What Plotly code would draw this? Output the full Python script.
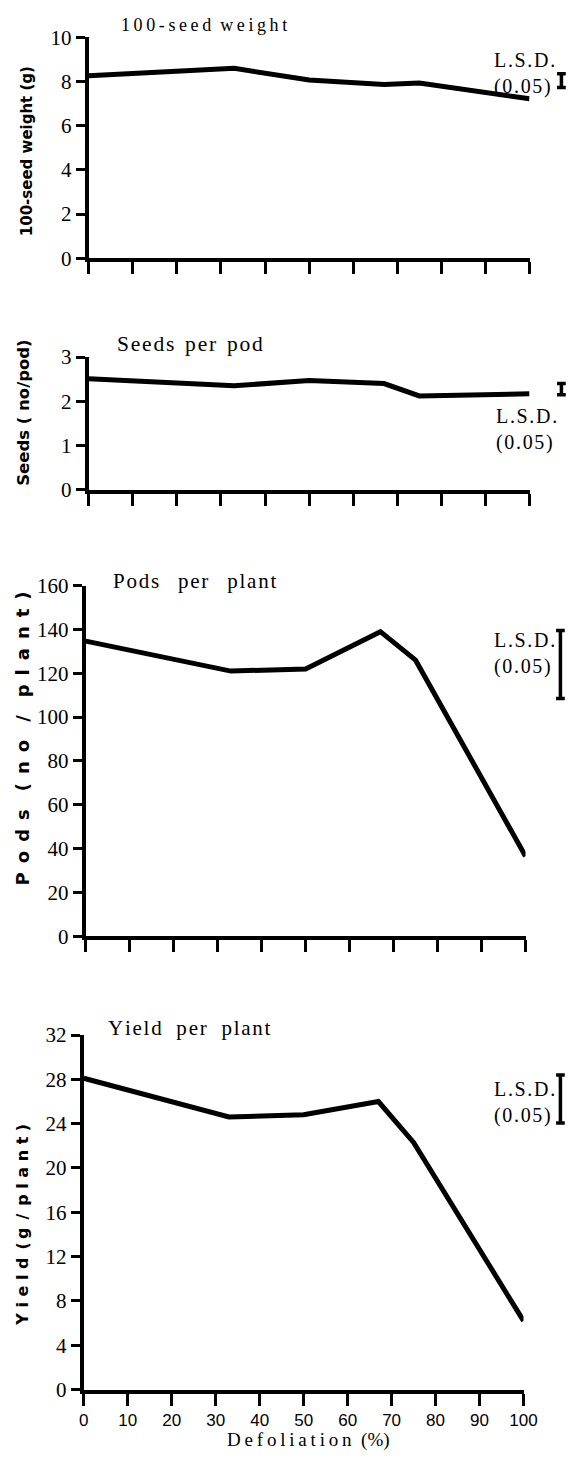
import plotly.graph_objects as go

W, H = 580, 1462

# ---------------- data ----------------
defoliation = [0, 33, 50, 67, 75, 100]
seed_weight = [8.27, 8.60, 8.07, 7.87, 7.94, 7.22]      # 100-seed weight (g)
seeds_per_pod = [2.51, 2.35, 2.47, 2.40, 2.12, 2.17]    # seeds (no/pod)
pods_per_plant = [134.7, 121.0, 122.0, 139.0, 126.0, 36.5]
yield_per_plant = [28.1, 24.6, 24.8, 26.0, 22.3, 6.2]

lsd_low = [7.73, 2.15, 108.5, 24.05]
lsd_high = [8.36, 2.40, 139.5, 28.4]

y_max = [10, 3, 160, 32]
y_step = [2, 1, 20, 4]
x_tick_vals = list(range(0, 101, 10))

T = "\u2009"      # thin space
HS = "\u200a"     # hair space
E = "\u2002"      # en space
M = "\u2003"      # em space


def spaced(word, sep):
    return sep.join(list(word))


panel_titles = [
    spaced("100-seed", T) + E + spaced("weight", T),
    spaced("Seeds", HS) + E + spaced("per", HS) + E + spaced("pod", HS),
    spaced("Pods", HS) + E + T + T + spaced("per", HS) + E + T + T + spaced("plant", HS),
    spaced("Yield", HS) + E + T + spaced("per", HS) + E + T + spaced("plant", HS),
]
panel_title_size = [18, 21.5, 21, 21]
y_titles = [
    "100-seed weight (g)",
    "Seeds ( no/pod)",
    spaced("Pods", E) + M + "(" + E + spaced("no", E) + M + "/" + M + spaced("plant)", E),
    spaced("Yield", " ") + E + "(" + T + "g" + E + "/" + E + spaced("plant)", " "),
]
y_title_size = [15, 16.5, 18, 16]
lsd_label = spaced("L.S.D.", HS) + "<br>" + spaced("(0.05)", HS)
x_title = spaced("Defoliation", T) + E + "(%)"
series = [seed_weight, seeds_per_pod, pods_per_plant, yield_per_plant]

# ---------------- layout geometry (picture pixels) ----------------
x_left = [88, 88, 85, 83]
x_right = [530, 530, 526, 524]
y_top = [36, 356, 585, 1035]      # pixel of y max
y_bot = [257, 489, 936, 1390]     # pixel of y = 0
title_pos = [(118, 24), (114, 343), (110, 580), (105, 1028)]
ytitle_pos = [(26, 150), (23, 411), (22, 738), (22, 1225)]
lsd_x = [562, 562, 561, 561]
lsd_text = [(492, 72), (494, 429), (492, 653), (492, 1103)]

# the photographed page shows figure pixels at 4 + 0.97*x, 10.5 + 0.985*y
SX, OX, SY, OY = 0.97, 4.0, 0.985, 10.5


def fx(px):
    return ((px - OX) / SX) / W


def fy(py):
    return 1 - ((py - OY) / SY) / H


serif = "Liberation Serif, Times New Roman, serif"
sans = "Liberation Sans, Arial, sans-serif"

fig = go.Figure()
layout = dict(
    width=W, height=H,
    margin=dict(l=0, r=0, t=0, b=0),
    paper_bgcolor="white", plot_bgcolor="white",
    showlegend=False,
)
shapes = []
annotations = []

for i in range(4):
    n = "" if i == 0 else str(i + 1)
    xa = "x" + n
    ya = "y" + n
    fig.add_trace(go.Scatter(
        x=defoliation, y=series[i], mode="lines",
        line=dict(color="black", width=5),
        xaxis=xa, yaxis=ya, hoverinfo="skip",
    ))
    layout["xaxis" + n] = dict(
        domain=[fx(x_left[i]), fx(x_right[i])],
        range=[0, 100], anchor=ya,
        tickvals=x_tick_vals, ticks="outside", ticklen=12, tickwidth=3,
        tickcolor="black", showline=True, linecolor="black", linewidth=4,
        showgrid=False, zeroline=False,
        showticklabels=(i == 3),
        tickfont=dict(family=sans, size=17, color="black"),
    )
    layout["yaxis" + n] = dict(
        domain=[fy(y_bot[i]), fy(y_top[i])],
        range=[0, y_max[i]], anchor=xa,
        dtick=y_step[i], tick0=0, ticks="outside", ticklen=9, tickwidth=3,
        tickcolor="black", showline=True, linecolor="black", linewidth=4,
        showgrid=False, zeroline=False,
        tickfont=dict(family=serif, size=21, color="black"),
    )
    # LSD bar from data values on this y axis
    xc = fx(lsd_x[i])
    cap = 4.5 / W
    lw = 3.5
    shapes.append(dict(type="line", xref="paper", yref=ya, x0=xc, x1=xc,
                       y0=lsd_low[i], y1=lsd_high[i],
                       line=dict(color="black", width=lw)))
    for yv in (lsd_low[i], lsd_high[i]):
        shapes.append(dict(type="line", xref="paper", yref=ya,
                           x0=xc - cap, x1=xc + cap, y0=yv, y1=yv,
                           line=dict(color="black", width=lw)))
    tx, ty = lsd_text[i]
    annotations.append(dict(
        text=lsd_label, xref="paper", yref="paper",
        x=fx(tx), y=fy(ty), xanchor="left", yanchor="middle", align="left",
        showarrow=False, font=dict(family=serif, size=20, color="black"),
    ))
    px_, py_ = title_pos[i]
    annotations.append(dict(
        text=panel_titles[i], xref="paper", yref="paper",
        x=fx(px_), y=fy(py_), xanchor="left", yanchor="middle",
        showarrow=False, font=dict(family=serif, size=panel_title_size[i], color="black"),
    ))
    qx, qy = ytitle_pos[i]
    annotations.append(dict(
        text="<b>" + y_titles[i] + "</b>", xref="paper", yref="paper",
        x=fx(qx), y=fy(qy), xanchor="center", yanchor="middle",
        textangle=-90, showarrow=False,
        font=dict(family="DejaVu Sans", size=y_title_size[i], color="black"),
    ))

annotations.append(dict(
    text=x_title, xref="paper", yref="paper",
    x=fx(308), y=1 - 1452 / H, xanchor="center", yanchor="middle",
    showarrow=False, font=dict(family=serif, size=19, color="black"),
))

layout["shapes"] = shapes
layout["annotations"] = annotations
fig.update_layout(**layout)
fig.write_html("out.html")
